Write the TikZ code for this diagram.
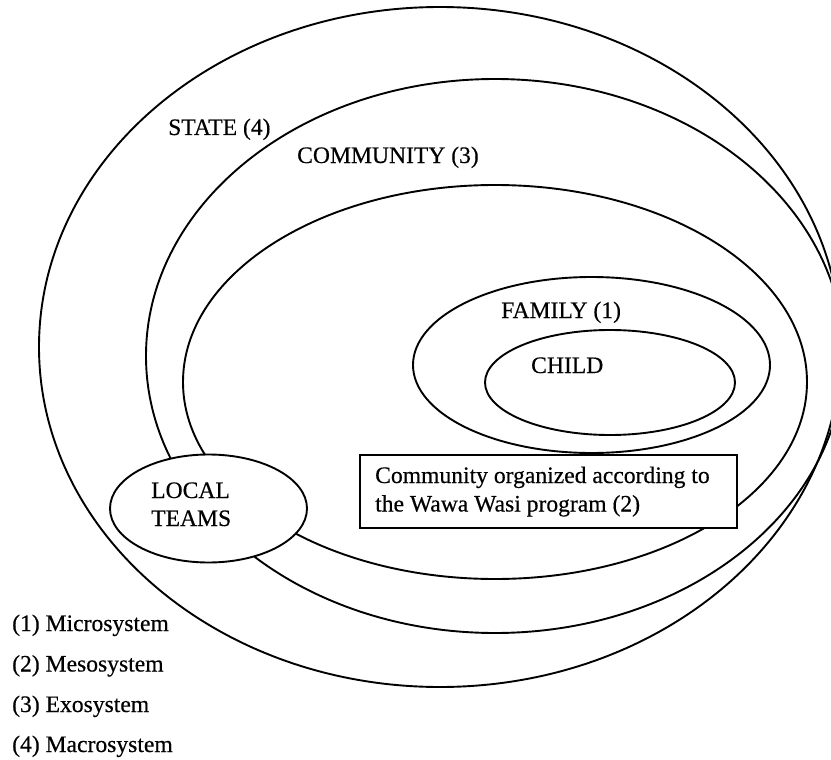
\documentclass[tikz,border=0pt]{standalone}
\usepackage{fontspec}
\setmainfont[FakeBold=0.4]{Liberation Serif}
\usetikzlibrary{shapes.geometric}
\begin{document}
\begin{tikzpicture}[x=1pt,y=-1pt,
  ring/.style={draw=black, line width=1.9pt},
  lbl/.style={anchor=base west, inner sep=0pt, font=\fontsize{23.6}{28}\selectfont},
  teamshape/.style={ellipse, draw=black, fill=white, line width=1.9pt,
    minimum width=197pt, minimum height=108pt, inner sep=0pt},
  boxshape/.style={rectangle, draw=black, fill=white, line width=1.7pt,
    minimum width=377pt, minimum height=73pt, inner sep=0pt, anchor=north west}]
\useasboundingbox (0,0) rectangle (831,760);

% nested system rings
\begin{scope}
  \clip (0,0) rectangle (831,760);
  \draw[ring] (440,347) ellipse [x radius=401, y radius=340];   % state
  \draw[ring] (495,356) ellipse [x radius=349, y radius=277];   % community
  \draw[ring] (495,382) ellipse [x radius=312, y radius=197];   % organized community
  \draw[ring] (591.5,365) ellipse [x radius=178.5, y radius=88]; % family
  \draw[ring] (610,382.5) ellipse [x radius=125, y radius=52.5]; % child
\end{scope}

% ring labels
\node[lbl] (state) at (168,135) {STATE (4)};
\node[lbl] (community) at (297,163) {COMMUNITY (3)};
\node[lbl] (family) at (501,318) {FAMILY (1)};
\node[lbl] (child) at (531,373) {CHILD};

% local teams
\node[teamshape] (teams) at (208.5,508.5) {};
\node[lbl] (teamsA) at (151,498) {LOCAL};
\node[lbl] (teamsB) at (151,526) {TEAMS};

% mesosystem box
\node[boxshape] (wawa) at (359,454) {};
\node[lbl] (wawaA) at (375,483) {Community organized according to};
\node[lbl] (wawaB) at (375,511.5) {the Wawa Wasi program (2)};

% legend
\node[lbl] (leg1) at (12,631) {(1) Microsystem};
\node[lbl] (leg2) at (12,671.5) {(2) Mesosystem};
\node[lbl] (leg3) at (12,712) {(3) Exosystem};
\node[lbl] (leg4) at (12,752) {(4) Macrosystem};
\end{tikzpicture}
\end{document}
